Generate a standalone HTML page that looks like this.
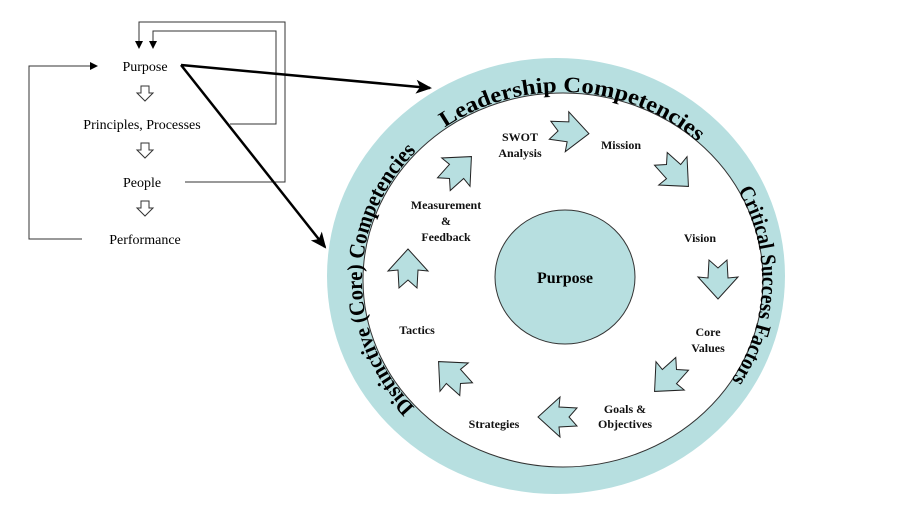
<!DOCTYPE html>
<html><head><style>
body{margin:0;background:#fff;}
svg{display:block;font-family:"Liberation Serif",serif;}
</style></head><body>
<svg width="903" height="519" viewBox="0 0 903 519">
<defs>
<marker id="ah" markerWidth="8" markerHeight="8" refX="7" refY="4" orient="auto" markerUnits="userSpaceOnUse"><path d="M0,0 L8,4 L0,8 Z" fill="#000"/></marker>
<marker id="ahb" markerWidth="16" markerHeight="14" refX="14" refY="7" orient="auto" markerUnits="userSpaceOnUse"><path d="M0,0 L16,7 L0,14 L4,7 Z" fill="#000"/></marker>
<g id="blk"><polygon points="-20,-9 -2,-10 -3,-20 19,0 -3,20 -2,10 -20,9 -12,0" fill="#b7dfe0" stroke="#222" stroke-width="1"/></g>
<g id="hol"><polygon points="-4,0 4,0 4,7 8,7 0,15 -8,7 -4,7" fill="#fff" stroke="#333" stroke-width="1"/></g>
<path id="ring" d="M562,468 A200,188 0 1 1 562,92 A200,188 0 1 1 562,468"/>
</defs>
<g font-size="14" fill="#000" text-anchor="middle">
<text x="145" y="71">Purpose</text>
<text x="142" y="129">Principles, Processes</text>
<text x="142" y="187">People</text>
<text x="145" y="244">Performance</text>
</g>
<use href="#hol" x="145" y="86"/>
<use href="#hol" x="145" y="143"/>
<use href="#hol" x="145" y="201"/>
<g fill="none" stroke="#333" stroke-width="1">
<polyline points="185,182 285,182 285,22 139,22 139,48" marker-end="url(#ah)"/>
<polyline points="230,124 276,124 276,31 153,31 153,48" marker-end="url(#ah)"/>
<polyline points="82,239 29,239 29,66 97,66" marker-end="url(#ah)"/>
</g>
<g stroke="#000" stroke-width="2.5" fill="none">
<line x1="181" y1="65" x2="430" y2="88" marker-end="url(#ahb)"/>
<line x1="181" y1="65" x2="325" y2="247" marker-end="url(#ahb)"/>
</g>
<ellipse cx="556" cy="276" rx="229" ry="218" fill="#b7dfe0"/>
<ellipse cx="563" cy="280" rx="200" ry="187" fill="#fff" stroke="#333" stroke-width="1"/>
<ellipse cx="565" cy="277" rx="70" ry="67" fill="#b7dfe0" stroke="#333" stroke-width="1"/>
<text x="565" y="283" font-size="16" font-weight="bold" text-anchor="middle">Purpose</text>
<g font-size="22" font-weight="bold">
<text><textPath href="#ring" startOffset="13.4%" textLength="285" lengthAdjust="spacingAndGlyphs">Distinctive (Core) Competencies</textPath></text>
<text><textPath href="#ring" startOffset="39.8%" textLength="272" lengthAdjust="spacingAndGlyphs">Leadership Competencies</textPath></text>
<text><textPath href="#ring" startOffset="67.3%" textLength="200" lengthAdjust="spacingAndGlyphs">Critical Success Factors</textPath></text>
</g>
<use href="#blk" transform="translate(570,132) rotate(5)"/>
<use href="#blk" transform="translate(675,173) rotate(45)"/>
<use href="#blk" transform="translate(718,280) rotate(90)"/>
<use href="#blk" transform="translate(668,378) rotate(135)"/>
<use href="#blk" transform="translate(557,417) rotate(180)"/>
<use href="#blk" transform="translate(452,375) rotate(225)"/>
<use href="#blk" transform="translate(408,268) rotate(270)"/>
<use href="#blk" transform="translate(458,170) rotate(315)"/>
<g font-size="12" font-weight="bold" text-anchor="middle" fill="#111">
<text x="520" y="141">SWOT</text><text x="520" y="157">Analysis</text>
<text x="621" y="149">Mission</text>
<text x="700" y="242">Vision</text>
<text x="708" y="336">Core</text><text x="708" y="352">Values</text>
<text x="625" y="413">Goals &amp;</text><text x="625" y="428">Objectives</text>
<text x="494" y="428">Strategies</text>
<text x="417" y="334">Tactics</text>
<text x="446" y="209">Measurement</text><text x="446" y="225">&amp;</text><text x="446" y="241">Feedback</text>
</g>
</svg>
</body></html>
